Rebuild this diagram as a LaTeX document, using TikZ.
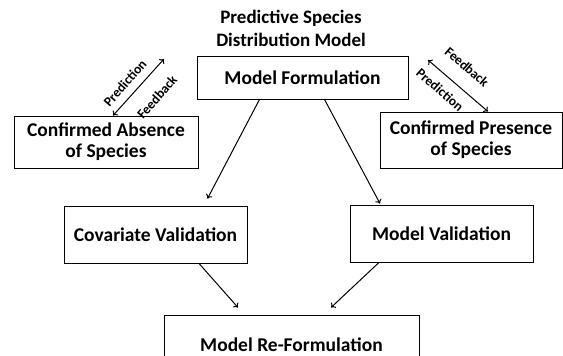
\documentclass[tikz,border=0pt]{standalone}
\usepackage{fontspec}
\setmainfont{Carlito}
\usetikzlibrary{arrows.meta}
\begin{document}
\begin{tikzpicture}[x=1pt,y=-1pt,line width=1pt,>={To[length=4pt,width=7pt]},
  box/.style={draw,line width=0.9pt,font=\fontsize{19.5}{21}\selectfont\bfseries,align=center,inner sep=0pt},
  lbl/.style={font=\fontsize{13.5}{15}\selectfont\bfseries,inner sep=0pt}]
\useasboundingbox (0,0) rectangle (563,356);
\node[font=\fontsize{19}{23}\selectfont\bfseries,align=center] (title) at (291,28.5) {Predictive Species\\Distribution Model};
\node[box,minimum width=211pt,minimum height=43pt] (form) at (302.5,77.5) {Model Formulation};
\node[box,minimum width=184pt,minimum height=52pt] (absence) at (106,142) {Confirmed Absence\\of Species};
\node[box,minimum width=182pt,minimum height=56pt] (presence) at (471,140) {Confirmed Presence\\of Species};
\node[box,minimum width=183pt,minimum height=57pt] (covar) at (155.5,234.5) {Covariate Validation};
\node[box,minimum width=183pt,minimum height=57pt] (modval) at (441.5,233.5) {Model Validation};
\node[box,minimum width=255pt,minimum height=60pt] (reform) at (291.5,345) {Model Re-Formulation};
\coordinate (absfb) at (164,59);
\coordinate (presfb) at (428,60);
% feedback loops
\draw[<->] ([xshift=7pt]absence.north) -- (absfb);
\draw[<->] (presfb) -- ([xshift=17pt]presence.north);
\node[lbl,rotate=48.7] (abspred) at (125,83) {Prediction};
\node[lbl,rotate=48.7] (absfeed) at (157,97) {Feedback};
\node[lbl,rotate=-41] (presfeed) at (467,67) {Feedback};
\node[lbl,rotate=-41] (prespred) at (440,90) {Prediction};
% validation
\draw[->] ([xshift=-43pt]form.south) -- ([xshift=52pt,yshift=7pt]covar.north);
\draw[->] ([xshift=22pt]form.south) -- ([xshift=-61.5pt,yshift=1pt]modval.north);
\draw[->] ([xshift=43.5pt]covar.south) -- ([xshift=-53.5pt,yshift=7pt]reform.north);
\draw[->] ([xshift=-62.5pt]modval.south) -- ([xshift=39.5pt,yshift=7pt]reform.north);
\end{tikzpicture}
\end{document}
